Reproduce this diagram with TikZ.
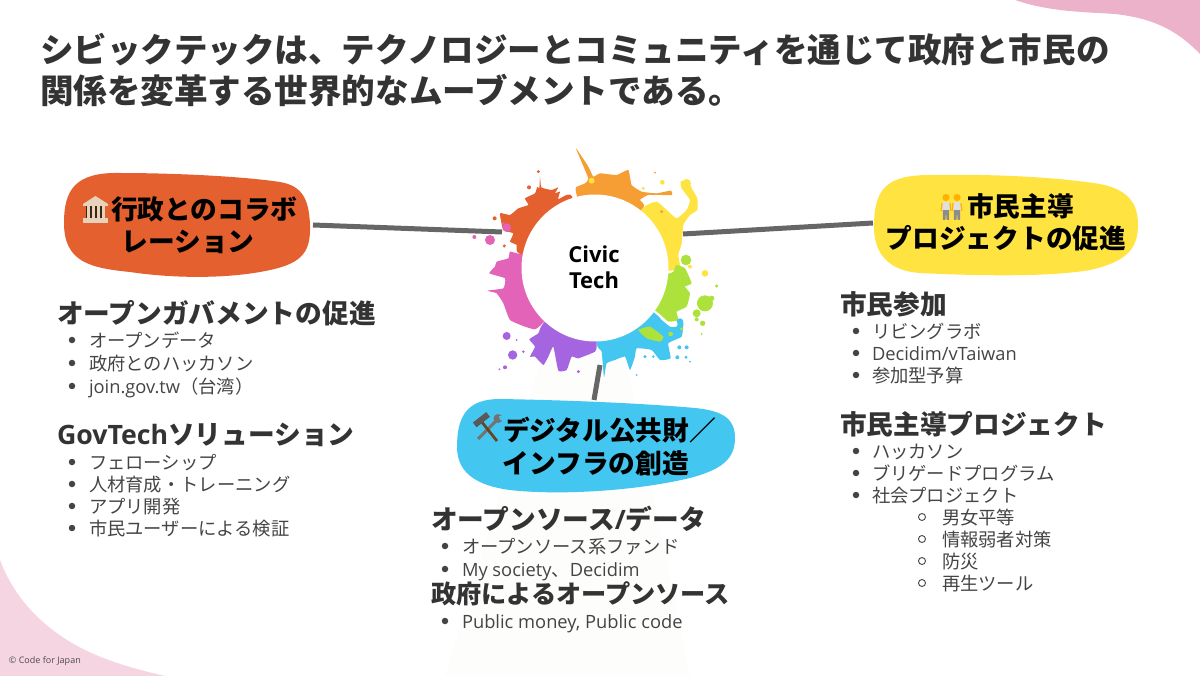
\documentclass[tikz,border=0pt]{standalone}
\usepackage{fontspec}
\setmainfont{Noto Sans CJK JP}
\newfontfamily\lat{Open Sans}
\definecolor{pinkA}{HTML}{ECB2C9}
\definecolor{pinkB}{HTML}{F6D5E2}
\definecolor{cRed}{HTML}{E4602F}
\definecolor{cOrange}{HTML}{F69D33}
\definecolor{cYellow}{HTML}{FFE341}
\definecolor{cGreen}{HTML}{ADE23C}
\definecolor{cBlue}{HTML}{43C6EF}
\definecolor{cPurple}{HTML}{A564E0}
\definecolor{cPink}{HTML}{E263B8}
\definecolor{txtHead}{HTML}{333333}
\definecolor{txtBody}{HTML}{444444}
\definecolor{ghost}{HTML}{FDFDFC}
\tikzset{
  x=1pt,y=-1pt,
  base/.style={inner sep=0pt,outer sep=0pt},
  titleline/.style={base,anchor=base west,yshift=-12.7pt,text=txtHead,font=\fontsize{33.55}{36}\selectfont\bfseries},
  head/.style={base,anchor=base west,yshift=-10.1pt,text=txtHead,font=\fontsize{26.7}{30}\selectfont\bfseries},
  headsmall/.style={base,anchor=base west,yshift=-9.5pt,text=txtHead,font=\fontsize{25.2}{30}\selectfont\bfseries},
  item/.style={base,anchor=base west,yshift=-7.8pt,text=txtBody,font=\fontsize{18.3}{22}\selectfont},
  boxtext/.style={base,anchor=base,yshift=-10.1pt,text=black,font=\fontsize{26.7}{30}\selectfont\bfseries},
  boxtextw/.style={boxtext,anchor=base west},
  hubtext/.style={base,anchor=base,yshift=-7.8pt,text=black,font=\lat\fontsize{22}{24}\selectfont\bfseries},
  dot/.style={circle,fill=txtBody,minimum size=6.5pt,inner sep=0pt},
  odot/.style={circle,draw=txtBody,line width=.9pt,minimum size=7pt,inner sep=0pt},
  link/.style={draw=black!60,line width=5pt},
}
\newcommand{\Li}[5]{\node[dot] (#1b) at (#2,#4) {};\node[item] (#1) at (#3,#4) {#5};}
\newcommand{\Lo}[5]{\node[odot] (#1b) at (#2,#4) {};\node[item] (#1) at (#3,#4) {#5};}
\newcommand{\spl}[2]{\fill[#1] plot[smooth cycle,tension=.25] coordinates {#2};}
\begin{document}
\begin{tikzpicture}
\useasboundingbox (0,0) rectangle (1200,676);
\begin{scope}
\clip (0,0) rectangle (1200,676);
\fill[pinkA] (1015,0) .. controls (1050,12) and (1085,12) .. (1115,14) .. controls (1150,18) and (1175,28) .. (1200,54) -- (1200,0) -- cycle;
\fill[pinkB] (0,560) .. controls (15,600) and (45,630) .. (85,650) .. controls (110,662) and (135,669) .. (165,676) -- (0,676) -- cycle;
\fill[ghost] (592,190) -- (445,676) -- (690,676) -- cycle;
\end{scope}

% title
\node[titleline] (title1) at (40,50) {シビックテックは、テクノロジーとコミュニティを通じて政府と市民の};
\node[titleline] (title2) at (40,91) {関係を変革する世界的なムーブメントである。};

% coordinates on the box edges
\coordinate (edgeL) at (313,225);
\coordinate (edgeR) at (873,223);
\coordinate (edgeB) at (594,400);
\coordinate (hubL) at (502,232);
\coordinate (hubR) at (683,234);
\coordinate (hubB) at (600,365);

\draw[link] (edgeL) -- (hubL);

% splash
\begin{scope}[shift={(460,130)},x=.3333pt,y=-.3333pt]
\spl{cRed}{(180,372) (170,345) (150,335) (160,310) (130,300) (120,250) (150,255) (175,235) (205,225) (195,205) (225,190) (232,170) (238,175) (240,140) (244,172) (275,180) (295,172) (285,190) (300,185) (295,208) (335,198) (405,415)}
\spl{cOrange}{(350,195) (348,172) (375,160) (385,145) (348,55) (385,110) (400,140) (420,130) (470,135) (505,120) (515,165) (545,185) (590,190) (632,182) (635,195) (565,195) (540,210) (550,235) (405,415)}
\spl{cYellow}{(548,235) (590,215) (620,240) (650,265) (680,240) (690,210) (665,175) (662,155) (685,150) (695,175) (712,205) (712,240) (690,255) (670,285) (665,340) (655,375) (660,410) (635,422) (405,415)}
\spl{cGreen}{(630,430) (648,405) (675,415) (695,460) (675,470) (690,490) (680,530) (650,545) (655,570) (625,575) (590,545) (405,415)}
\spl{cBlue}{(585,550) (605,570) (630,590) (650,590) (658,570) (670,580) (665,620) (625,640) (632,685) (600,690) (575,660) (530,655) (525,680) (510,720) (495,680) (465,690) (440,700) (432,742) (425,665) (410,640) (405,415)}
\spl{cGreen}{(535,600) (570,590) (610,620) (600,635) (560,625)}
\spl{cPurple}{(410,640) (405,665) (355,685) (335,680) (320,720) (295,722) (280,650) (265,680) (250,705) (225,680) (210,680) (225,650) (208,628) (235,610) (250,580) (405,415)}
\spl{cPink}{(250,578) (225,598) (195,590) (150,570) (130,520) (110,490) (82,482) (130,475) (135,445) (88,430) (105,410) (110,395) (145,385) (150,365) (180,372) (405,415)}
\foreach \xx/\yy/\rr/\cc in {235/125/5/cRed,207/172/6/cRed,104/265/6/cRed,133/348/5/cRed,
  395/152/9/cYellow,435/155/6/cOrange,550/175/5/cYellow,585/128/3/cOrange,607/157/7/cYellow,605/245/5/cOrange,
  680/160/13/cYellow,735/430/10/cYellow,690/410/6/cYellow,
  678/390/16/cGreen,770/468/5/cGreen,735/520/24/cGreen,710/550/12/cGreen,728/580/8/cGreen,710/568/6/cGreen,755/505/8/cGreen,725/612/3/cGreen,632/612/7/cGreen,665/597/5/cGreen,
  660/575/10/cBlue,658/652/6/cBlue,680/652/6/cBlue,652/682/6/cBlue,678/682/5/cBlue,690/695/3/cBlue,555/680/5/cBlue,580/680/4/cBlue,530/735/3/cBlue,
  140/293/13/cPink,90/330/15/cPink,43/321/6/cPink,130/280/4/cPink,
  140/618/12/cPurple,158/675/14/cPurple,135/712/6/cPurple,118/718/3/cPurple,190/665/4/cPurple,355/725/5/cPurple,170/630/3/cPurple}{
  \fill[\cc] (\xx,\yy) circle[radius=\rr];
}
\end{scope}
\node[circle,fill=white,minimum size=147pt,inner sep=0pt] (hub) at (595,268) {};
\node[hubtext] (civic) at (594,255) {Civic};
\node[hubtext] (tech) at (594,281) {Tech};

\draw[link] (edgeR) -- (hubR);
\draw[link] (edgeB) -- (hubB);

% coloured boxes
\fill[cRed] (64,223) .. controls (64,190) and (75,172) .. (120,173) .. controls (170,173) and (240,176) .. (280,182) .. controls (303,186) and (309,200) .. (310,225) .. controls (311,255) and (300,265) .. (260,272) .. controls (220,279) and (170,278) .. (130,272) .. controls (90,268) and (64,262) .. (64,223) -- cycle;
\fill[cYellow] (874,227) .. controls (874,190) and (885,175) .. (930,175) .. controls (980,174) and (1050,176) .. (1100,184) .. controls (1130,190) and (1138,205) .. (1138,225) .. controls (1138,250) and (1125,262) .. (1090,270) .. controls (1050,277) and (980,276) .. (920,273) .. controls (890,271) and (874,255) .. (874,227) -- cycle;
\fill[cBlue] (457,447) .. controls (457,415) and (468,399) .. (500,399) .. controls (560,400) and (640,403) .. (695,408) .. controls (725,411) and (735,420) .. (735,438) .. controls (735,460) and (720,470) .. (690,478) .. controls (640,490) and (570,495) .. (520,491) .. controls (480,488) and (457,475) .. (457,447) -- cycle;

% temple icon
\fill[black!70!brown] (86,205) rectangle (105,219);
\fill[brown!35!white] (83,204) -- (95.5,196) -- (108,204) -- (108,206) -- (83,206) -- cycle;
\foreach \cx in {87,92,97,102}{\fill[brown!35!white] (\cx,206) rectangle +(2.6,12);}
\fill[brown!35!white] (83,218) rectangle (108,223);
% people icon
\foreach \cx in {946,957}{
  \fill[black!45] (\cx-3.2,209) -- (\cx+3.2,209) -- (\cx+3,220) -- (\cx+.6,220) -- (\cx,212) -- (\cx-.6,220) -- (\cx-3,220) -- cycle;
  \fill[black!12] (\cx-3.6,202) rectangle (\cx+3.6,210);
  \fill[orange!60!yellow] (\cx,197.5) circle[radius=3.6];
  \draw[orange!60!yellow,line width=1.3pt] (\cx-3.9,203) -- (\cx-4.8,211);
  \draw[orange!60!yellow,line width=1.3pt] (\cx+3.9,203) -- (\cx+4.8,211);
}
% tools icon
\draw[black!55,line width=3pt] (497,420) -- (478,439);
\fill[black!55] (498,418.5) circle[radius=4.5];
\fill[cBlue] (499,416) -- (503,416) -- (503,420) -- (500,420) -- cycle;
\draw[black!45!brown,line width=2.8pt] (481,421) -- (497,441);
\fill[black!65,rotate around={38:(481,420)}] (473,417) rectangle (490,423);

\node[boxtextw] (b1a) at (111,209) {行政とのコラボ};
\node[boxtext] (b1b) at (188,241) {レーション};
\node[boxtextw] (b2a) at (967,206) {市民主導};
\node[boxtext] (b2b) at (1006,238) {プロジェクトの促進};
\node[boxtextw] (b3a) at (503,430) {デジタル公共財／};
\node[boxtext] (b3b) at (596,463) {インフラの創造};

% left column
\node[head] (h1) at (57,313) {オープンガバメントの促進};
\Li{l1}{72}{89}{340}{オープンデータ}
\Li{l2}{72}{89}{363}{政府とのハッカソン}
\Li{l3}{72}{89}{386}{{\lat join.gov.tw}（台湾）}
\node[head] (h2) at (57,434) {{\lat GovTech}ソリューション};
\Li{l4}{72}{89}{462}{フェローシップ}
\Li{l5}{72}{89}{484}{人材育成・トレーニング}
\Li{l6}{72}{89}{506}{アプリ開発}
\Li{l7}{72}{89}{528}{市民ユーザーによる検証}

% centre column
\node[head] (h3) at (431,519) {オープンソース{\lat /}データ};
\Li{c1}{445}{462}{546}{オープンソース系ファンド}
\Li{c2}{445}{462}{569}{{\lat My society}、{\lat Decidim}}
\node[headsmall] (h4) at (431,594) {政府によるオープンソース};
\Li{c3}{445}{462}{621}{{\lat Public money, Public code}}

% right column
\node[head] (h5) at (840,304) {市民参加};
\Li{r1}{856}{872}{331}{リビングラボ}
\Li{r2}{856}{872}{353}{{\lat Decidim/vTaiwan}}
\Li{r3}{856}{872}{375}{参加型予算}
\node[head] (h6) at (840,424) {市民主導プロジェクト};
\Li{r4}{856}{872}{451}{ハッカソン}
\Li{r5}{856}{872}{473}{ブリゲードプログラム}
\Li{r6}{856}{872}{495}{社会プロジェクト}
\Lo{s1}{922}{942}{517}{男女平等}
\Lo{s2}{922}{942}{539}{情報弱者対策}
\Lo{s3}{922}{942}{561}{防災}
\Lo{s4}{922}{942}{583}{再生ツール}

\node[base,anchor=base west,yshift=-3pt,text=black!70,font=\lat\fontsize{9}{11}\selectfont] (copy) at (9,660) {© Code for Japan};
\end{tikzpicture}
\end{document}
